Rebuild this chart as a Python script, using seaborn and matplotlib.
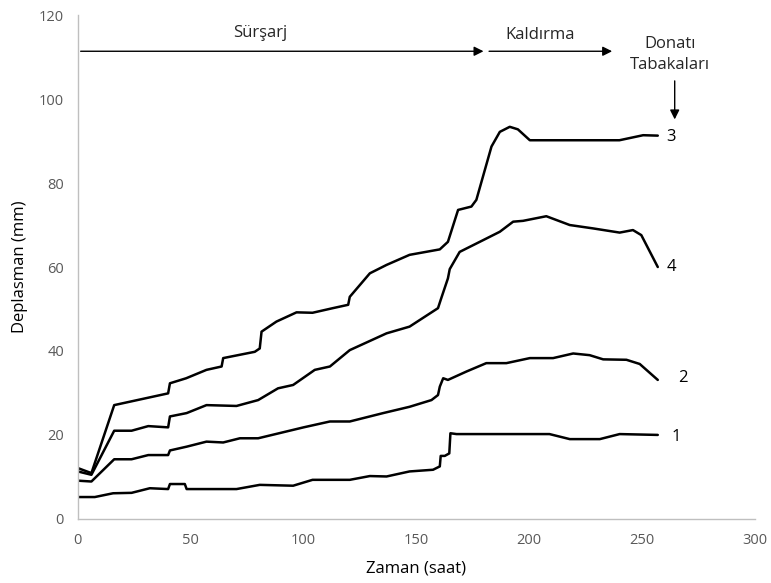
import matplotlib.pyplot as plt
import seaborn as sns
import pandas as pd

plt.switch_backend('Agg')

# Layer 1 .. 4 displacement curves (time in hours, displacement in mm)
x1 = [0, 7.5, 15.6, 23.8, 31.9, 40, 40.8, 47.4, 48.2, 70.3, 80.6, 95.4, 104, 120.5, 129.4, 136.8,
      147, 157.4, 160.4, 160.8, 162.6, 164.6, 165.1, 167.8, 209, 218, 231.3, 240.1, 257]
y1 = [5.2, 5.2, 6.1, 6.2, 7.3, 7.1, 8.3, 8.3, 7.1, 7.1, 8.1, 7.9, 9.3, 9.3, 10.2, 10.1,
      11.3, 11.7, 12.5, 15, 15, 15.6, 20.4, 20.2, 20.2, 19, 19, 20.2, 20]

x2 = [0, 6, 16.1, 23.8, 31.2, 40, 40.8, 48.2, 57, 64.4, 71.8, 79.9, 100, 111.7, 120.5, 135.3,
      147, 156.7, 159.6, 160.4, 161.9, 164, 172.2, 181, 189.9, 200.3, 210.6, 219.5, 226.8,
      232.8, 243.1, 249, 257]
y2 = [9.1, 8.9, 14.2, 14.2, 15.2, 15.2, 16.3, 17.2, 18.4, 18.2, 19.2, 19.2, 21.8, 23.2, 23.2, 25.2,
      26.7, 28.3, 29.5, 31.5, 33.5, 33.1, 35.1, 37.1, 37.1, 38.3, 38.3, 39.4, 39,
      38, 37.9, 36.9, 33.1]

x3 = [0, 6, 16.1, 40, 40.8, 48, 57, 63.7, 64.4, 78.4, 80.6, 81.4, 88, 96.9, 104, 113, 119.8,
      120.5, 129.4, 136.8, 147, 160.4, 164, 168.5, 174.4, 176.6, 183.3, 187, 191.4, 195,
      200.3, 240, 250.5, 257]
y3 = [12.1, 10.9, 27.1, 29.9, 32.3, 33.5, 35.5, 36.3, 38.3, 39.8, 40.6, 44.6, 47, 49.2, 49.1, 50.2, 51,
      52.9, 58.5, 60.5, 62.9, 64.2, 66, 73.6, 74.4, 76, 88.7, 92.2, 93.4, 92.8,
      90.2, 90.2, 91.4, 91.3]

x4 = [0, 6, 16.1, 23.8, 31.2, 40, 40.8, 48.2, 57, 70.3, 79.9, 88.7, 95.4, 105, 111.7, 120.5,
      136.8, 147, 159.6, 161, 164, 164.8, 169.2, 179.6, 187, 192.9, 197.3, 207.6, 218, 228.3,
      240.1, 246, 249.7, 257]
y4 = [11.3, 10.5, 21, 21, 22.1, 21.8, 24.4, 25.2, 27.1, 26.9, 28.3, 31.1, 31.9, 35.5, 36.3, 40.2,
      44.2, 45.8, 50.2, 52.5, 57.3, 59.5, 63.6, 66.4, 68.4, 70.8, 71, 72.1, 70, 69.2,
      68.2, 68.8, 67.6, 60]

series = {'1': (x1, y1), '2': (x2, y2), '3': (x3, y3), '4': (x4, y4)}
labels = ['1', '2', '3', '4']

frames = []
for key, (xs, ys) in series.items():
    frames.append(pd.DataFrame({'Zaman': xs, 'Deplasman': ys, 'Tabaka': key}))
df = pd.concat(frames, ignore_index=True)

sns.set_style('white')
plt.rcParams['font.family'] = ['Open Sans', 'DejaVu Sans']

fig = plt.figure(figsize=(7.71, 5.83), dpi=100)
ax = fig.add_axes([0.101, 0.110, 0.878, 0.864])

sns.lineplot(data=df, x='Zaman', y='Deplasman', units='Tabaka', estimator=None, sort=False,
             color='black', linewidth=1.8, ax=ax)

# end labels for each layer
label_pos = {'1': (265, 19.6), '2': (268, 33.5), '3': (263, 91), '4': (263, 60)}
for lab in labels:
    lx, ly = label_pos[lab]
    ax.text(lx, ly, lab, fontsize=12, va='center', ha='center', color='black')

# phase arrows
arrow = dict(arrowstyle='-|>', color='black', lw=1.0, mutation_scale=14)
ax.annotate('', xy=(181, 111.4), xytext=(0, 111.4), arrowprops=arrow)
ax.annotate('', xy=(238, 111.4), xytext=(181, 111.4), arrowprops=arrow)
ax.annotate('', xy=(264.5, 94.5), xytext=(264.5, 105), arrowprops=arrow)
ax.text(80.6, 115.8, 'Sürşarj', fontsize=12, ha='center', va='center')
ax.text(204.7, 115.3, 'Kaldırma', fontsize=12, ha='center', va='center')
ax.text(262.3, 110.6, 'Donatı\nTabakaları', fontsize=12, ha='center', va='center', linespacing=1.45)

ax.set_xlim(0, 300)
ax.set_ylim(0, 120)
ax.set_xticks(range(0, 301, 50))
ax.set_yticks(range(0, 121, 20))
ax.tick_params(axis='both', labelsize=10.5, colors='#595959', length=0, pad=10)
ax.set_xlabel('Zaman (saat)', fontsize=12, color='black')
ax.set_ylabel('Deplasman (mm)', fontsize=12, color='black')
ax.xaxis.set_label_coords(0.5, -0.083)
ax.yaxis.set_label_coords(-0.074, 0.5)
if ax.get_legend() is not None:
    ax.get_legend().remove()

sns.despine(ax=ax)
for side in ['left', 'bottom']:
    ax.spines[side].set_color('#bfbfbf')
    ax.spines[side].set_linewidth(1.0)

fig.savefig('out.png', dpi=100)
plt.close(fig)
